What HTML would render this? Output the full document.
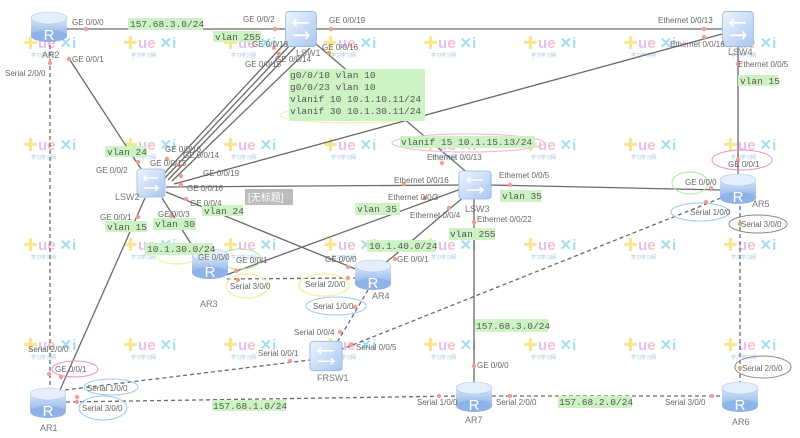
<!DOCTYPE html>
<html><head><meta charset="utf-8"><style>
html,body{margin:0;padding:0;background:#fff;}
svg{display:block;font-family:"Liberation Sans","Noto Sans CJK SC",sans-serif;}
.l{font-size:8px;fill:#666;}
.n{font-size:9px;fill:#777;}
.g{font-family:"Liberation Mono",monospace;font-size:9.5px;fill:#555;}
.gb{fill:#cdf3c4;}
.s{stroke:#6a6a6a;stroke-width:1.3;fill:none;}
.d{stroke:#6a6a6a;stroke-width:1.3;fill:none;stroke-dasharray:4,3;}
.dot{fill:#f49c92;}
.wm{font-size:15px;font-weight:bold;opacity:.55;}
</style></head><body>
<svg width="800" height="438" viewBox="0 0 800 438" xmlns="http://www.w3.org/2000/svg">
<defs>
<linearGradient id="rg" x1="0" y1="0" x2="0" y2="1"><stop offset="0" stop-color="#d9e8fb"/><stop offset="1" stop-color="#8fb3e6"/></linearGradient>
<linearGradient id="sg" x1="0" y1="0" x2="1" y2="1"><stop offset="0" stop-color="#eef5fe"/><stop offset="1" stop-color="#a9c6ef"/></linearGradient>
<g id="wmk">
<text x="0" y="0" class="wm"><tspan fill="#f3d23a">✚</tspan><tspan fill="#c890f0">u</tspan><tspan fill="#f08aa8">e</tspan><tspan fill="#5bc0e8" dx="4">✕i</tspan></text>
<text x="8" y="9" font-size="5px" fill="#7aa8d8" opacity=".7">学习学习网</text>
</g>
<g id="rt">
<rect x="-18" y="-8" width="36" height="18" fill="url(#rg)"/>
<ellipse cx="0" cy="10" rx="18" ry="6" fill="#8fb3e6"/>
<ellipse cx="0" cy="-8" rx="18" ry="6" fill="#e4eefc" stroke="#a9c3ea" stroke-width=".6"/>
<text x="0" y="14" text-anchor="middle" font-size="15" fill="#fff" font-family="Liberation Sans">R</text>
</g>
<g id="sw">
<rect x="-14" y="-14" width="28" height="28" rx="3" fill="url(#sg)" stroke="#9ab8e4" stroke-width=".8"/>
<path d="M-7 -5h14M-7 5h14M-4 -8l-3 3 3 3M4 2l3 3-3 3" stroke="#fff" stroke-width="1.5" fill="none"/>
</g>
</defs>

<!-- watermarks -->
<g>
<use href="#wmk" x="23" y="48"/><use href="#wmk" x="123" y="48"/><use href="#wmk" x="223" y="48"/><use href="#wmk" x="323" y="48"/><use href="#wmk" x="423" y="48"/><use href="#wmk" x="523" y="48"/><use href="#wmk" x="623" y="48"/><use href="#wmk" x="723" y="48"/>
<use href="#wmk" x="23" y="150"/><use href="#wmk" x="123" y="150"/><use href="#wmk" x="223" y="150"/><use href="#wmk" x="323" y="150"/><use href="#wmk" x="423" y="150"/><use href="#wmk" x="523" y="150"/><use href="#wmk" x="623" y="150"/><use href="#wmk" x="723" y="150"/>
<use href="#wmk" x="23" y="250"/><use href="#wmk" x="123" y="250"/><use href="#wmk" x="223" y="250"/><use href="#wmk" x="323" y="250"/><use href="#wmk" x="423" y="250"/><use href="#wmk" x="523" y="250"/><use href="#wmk" x="623" y="250"/><use href="#wmk" x="723" y="250"/>
<use href="#wmk" x="23" y="350"/><use href="#wmk" x="123" y="350"/><use href="#wmk" x="223" y="350"/><use href="#wmk" x="323" y="350"/><use href="#wmk" x="423" y="350"/><use href="#wmk" x="523" y="350"/><use href="#wmk" x="623" y="350"/><use href="#wmk" x="723" y="350"/>
</g>

<!-- lines -->
<line class="s" x1="66" y1="29" x2="285" y2="29"/>
<line class="s" x1="316" y1="29" x2="722" y2="29"/>
<line class="s" x1="68" y1="57" x2="145" y2="175"/>
<line class="d" x1="50" y1="45" x2="50" y2="392"/>
<line class="s" x1="288" y1="40" x2="160" y2="178"/>
<line class="s" x1="293" y1="42" x2="164" y2="179"/>
<line class="s" x1="298" y1="44" x2="168" y2="180"/>
<line class="s" x1="310" y1="48" x2="172" y2="181"/>
<line class="s" x1="316" y1="44" x2="470" y2="175"/>
<line class="s" x1="722" y1="34" x2="174" y2="184"/>
<line class="s" x1="166" y1="187" x2="461" y2="185"/>
<line class="s" x1="489" y1="185" x2="722" y2="190"/>
<line class="s" x1="738" y1="44" x2="738" y2="178"/>
<line class="s" x1="166" y1="192" x2="358" y2="270"/>
<line class="s" x1="162" y1="198" x2="200" y2="258"/>
<line class="s" x1="145" y1="198" x2="60" y2="390"/>
<line class="s" x1="461" y1="189" x2="226" y2="275"/>
<line class="s" x1="465" y1="196" x2="383" y2="265"/>
<line class="s" x1="474" y1="197" x2="474" y2="382"/>
<line class="d" x1="227" y1="279" x2="356" y2="278"/>
<line class="d" x1="368" y1="290" x2="335" y2="346"/>
<line class="d" x1="340" y1="350" x2="726" y2="196"/>
<line class="d" x1="65" y1="390" x2="310" y2="360"/>
<line class="d" x1="66" y1="402" x2="458" y2="396"/>
<line class="d" x1="492" y1="396" x2="722" y2="396"/>
<line class="d" x1="740" y1="206" x2="740" y2="382"/>

<!-- ellipses -->
<g fill="none" stroke-width="1">
<ellipse cx="350" cy="115" rx="70" ry="8" stroke="#f3f0a8"/>
<ellipse cx="468" cy="143" rx="76" ry="9" stroke="#f6b0d8"/>
<ellipse cx="742" cy="160" rx="30" ry="10" stroke="#f08cc8"/>
<ellipse cx="690" cy="183" rx="18" ry="11" stroke="#a8ec9c"/>
<ellipse cx="700" cy="212" rx="29" ry="9" stroke="#9cc8f0"/>
<ellipse cx="758" cy="224" rx="29" ry="9" stroke="#888"/>
<ellipse cx="177" cy="257" rx="19" ry="7" stroke="#f3ec8c"/>
<ellipse cx="240" cy="259" rx="21" ry="10" stroke="#a8ec9c"/>
<ellipse cx="247" cy="286" rx="21" ry="12" stroke="#f3ec8c"/>
<ellipse cx="324" cy="285" rx="25" ry="11" stroke="#f3ec8c"/>
<ellipse cx="336" cy="306" rx="30" ry="9" stroke="#9cc8f0"/>
<ellipse cx="75" cy="369" rx="23" ry="8" stroke="#f08cc8"/>
<ellipse cx="111" cy="387" rx="27" ry="8" stroke="#9cc8f0"/>
<ellipse cx="103" cy="408" rx="24" ry="12" stroke="#9cc8f0"/>
<ellipse cx="763" cy="367" rx="28" ry="11" stroke="#888"/>
</g>

<!-- dots -->
<g class="dot">
<circle cx="86" cy="29" r="2.2"/><circle cx="275" cy="29" r="2.2"/><circle cx="331" cy="29" r="2.2"/>
<circle cx="69" cy="59" r="2.2"/><circle cx="50" cy="63" r="2.2"/><circle cx="274" cy="48" r="2.2"/><circle cx="279" cy="54" r="2.2"/>
<circle cx="329" cy="53" r="2.2" fill="#f0a040"/><circle cx="704" cy="29" r="2.2"/><circle cx="704" cy="37" r="2.2"/><circle cx="738" cy="64" r="2.2"/>
<circle cx="138" cy="162" r="2.2"/><circle cx="167" cy="159" r="2.2"/><circle cx="178" cy="165" r="2.2"/><circle cx="181" cy="176" r="2.2"/><circle cx="181" cy="185" r="2.2"/><circle cx="186" cy="199" r="2.2"/>
<circle cx="138" cy="217" r="2.2"/><circle cx="171" cy="216" r="2.2"/>
<circle cx="404" cy="184" r="2.2"/><circle cx="442" cy="163" r="2.2"/><circle cx="510" cy="185" r="2.2"/><circle cx="425" cy="198" r="2.2"/><circle cx="449" cy="208" r="2.2"/><circle cx="474" cy="222" r="2.2"/>
<circle cx="738" cy="160" r="2.2"/><circle cx="711" cy="188" r="2.2"/><circle cx="706" cy="202" r="2.2"/><circle cx="740" cy="224" r="2.2"/>
<circle cx="196" cy="256" r="2.2"/><circle cx="236" cy="271" r="2.2"/><circle cx="238" cy="280" r="2.2"/><circle cx="348" cy="278" r="2.2"/><circle cx="348" cy="267" r="2.2"/><circle cx="395" cy="259" r="2.2"/>
<circle cx="355" cy="307" r="2.2"/><circle cx="340" cy="332" r="2.2"/><circle cx="351" cy="345" r="2.2"/><circle cx="290" cy="361" r="2.2"/>
<circle cx="49" cy="374" r="2.2"/><circle cx="61" cy="377" r="2.2"/><circle cx="77" cy="397" r="2.2"/><circle cx="77" cy="402" r="2.2"/>
<circle cx="474" cy="366" r="2.2"/><circle cx="439" cy="396" r="2.2"/><circle cx="510" cy="396" r="2.2"/><circle cx="712" cy="396" r="2.2"/><circle cx="740" cy="368" r="2.2"/>
</g>

<!-- devices -->
<use href="#rt" x="49" y="26"/>
<use href="#rt" x="210" y="263"/>
<use href="#rt" x="373" y="274"/>
<use href="#rt" x="738" y="188"/>
<use href="#rt" x="48" y="402"/>
<use href="#rt" x="474" y="396"/>
<use href="#rt" x="740" y="396"/>
<g transform="translate(301,29) scale(1.1,1.25)"><use href="#sw"/></g>
<g transform="translate(738,29) scale(1.1,1.25)"><use href="#sw"/></g>
<g transform="translate(151,183)"><use href="#sw"/></g>
<g transform="translate(475,185) scale(1.15,1)"><use href="#sw"/></g>
<g transform="translate(326,356) scale(1.15,1.05)"><use href="#sw"/></g>

<!-- green labels -->
<g>
<rect class="gb" x="128" y="18" width="75" height="12"/><text class="g" x="130" y="27">157.68.3.0/24</text>
<rect class="gb" x="213" y="31" width="48" height="11"/><text class="g" x="215" y="40">vlan 255</text>
<rect class="gb" x="289" y="69" width="136" height="52"/>
<text class="g" x="290" y="78">g0/0/10  vlan 10</text>
<text class="g" x="290" y="90">g0/0/23  vlan 10</text>
<text class="g" x="290" y="102">vlanif 10  10.1.10.11/24</text>
<text class="g" x="290" y="114">vlanif 30  10.1.30.11/24</text>
<rect class="gb" x="738" y="75" width="40" height="11"/><text class="g" x="740" y="84">vlan 15</text>
<rect class="gb" x="400" y="136" width="135" height="12"/><text class="g" x="401" y="145">vlanif 15  10.1.15.13/24</text>
<rect class="gb" x="105" y="146" width="42" height="11"/><text class="g" x="107" y="155">vlan 24</text>
<rect class="gb" x="500" y="190" width="41" height="12"/><text class="g" x="502" y="199">vlan 35</text>
<rect class="gb" x="355" y="203" width="45" height="12"/><text class="g" x="357" y="212">vlan 35</text>
<rect class="gb" x="202" y="205" width="41" height="11"/><text class="g" x="204" y="214">vlan 24</text>
<rect class="gb" x="105" y="221" width="42" height="11"/><text class="g" x="107" y="230">vlan 15</text>
<rect class="gb" x="153" y="218" width="43" height="12"/><text class="g" x="155" y="227">vlan 30</text>
<rect class="gb" x="449" y="228" width="46" height="12"/><text class="g" x="450" y="237">vlan 255</text>
<rect class="gb" x="145" y="243" width="68" height="12"/><text class="g" x="147" y="252">10.1.30.0/24</text>
<rect class="gb" x="367" y="240" width="69" height="12"/><text class="g" x="369" y="249">10.1.40.0/24</text>
<rect class="gb" x="475" y="319" width="73" height="13"/><text class="g" x="476" y="329">157.68.3.0/24</text>
<rect class="gb" x="212" y="400" width="74" height="11"/><text class="g" x="213" y="409">157.68.1.0/24</text>
<rect class="gb" x="558" y="396" width="74" height="12"/><text class="g" x="559" y="405">157.68.2.0/24</text>
<rect x="245" y="189" width="48" height="16" fill="#bcbcbc"/><text x="248" y="201" font-size="10" fill="#fff">[无标题]</text>
</g>

<!-- interface labels -->
<g class="l">
<text x="72" y="25">GE 0/0/0</text>
<text x="243" y="22">GE 0/0/2</text>
<text x="329" y="23">GE 0/0/19</text>
<text x="252" y="47">GE 0/0/13</text>
<text x="275" y="62">GE 0/0/14</text>
<text x="245" y="67">GE 0/0/15</text>
<text x="322" y="50">GE 0/0/16</text>
<text x="72" y="62">GE 0/0/1</text>
<text x="5" y="76">Serial 2/0/0</text>
<text x="658" y="23">Ethernet 0/0/13</text>
<text x="670" y="47">Ethernet 0/0/16</text>
<text x="738" y="67">Ethernet 0/0/5</text>
<text x="165" y="152">GE 0/0/16</text>
<text x="150" y="166">GE 0/0/13</text>
<text x="183" y="158">GE 0/0/14</text>
<text x="203" y="176">GE 0/0/19</text>
<text x="187" y="191">GE 0/0/16</text>
<text x="96" y="173">GE 0/0/2</text>
<text x="100" y="220">GE 0/0/1</text>
<text x="158" y="217">GE 0/0/3</text>
<text x="190" y="206">GE 0/0/4</text>
<text x="427" y="160">Ethernet 0/0/13</text>
<text x="394" y="183">Ethernet 0/0/16</text>
<text x="499" y="178">Ethernet 0/0/5</text>
<text x="388" y="200">Ethernet 0/0/3</text>
<text x="410" y="218">Ethernet 0/0/4</text>
<text x="477" y="222">Ethernet 0/0/22</text>
<text x="728" y="167">GE 0/0/1</text>
<text x="685" y="185">GE 0/0/0</text>
<text x="690" y="215">Serial 1/0/0</text>
<text x="741" y="227">Serial 3/0/0</text>
<text x="325" y="262">GE 0/0/0</text>
<text x="397" y="262">GE 0/0/1</text>
<text x="198" y="260">GE 0/0/0</text>
<text x="236" y="263">GE 0/0/1</text>
<text x="230" y="289">Serial 3/0/0</text>
<text x="305" y="287">Serial 2/0/0</text>
<text x="313" y="309">Serial 1/0/0</text>
<text x="294" y="335">Serial 0/0/4</text>
<text x="356" y="350">Serial 0/0/5</text>
<text x="258" y="356">Serial 0/0/1</text>
<text x="28" y="352">Serial 2/0/0</text>
<text x="55" y="372">GE 0/0/1</text>
<text x="87" y="391">Serial 1/0/0</text>
<text x="82" y="411">Serial 3/0/0</text>
<text x="477" y="368">GE 0/0/0</text>
<text x="417" y="405">Serial 1/0/0</text>
<text x="496" y="405">Serial 2/0/0</text>
<text x="665" y="405">Serial 3/0/0</text>
<text x="742" y="371">Serial 2/0/0</text>
</g>
<g class="n">
<text x="42" y="58">AR2</text>
<text x="296" y="56">LSW1</text>
<text x="728" y="55">LSW4</text>
<text x="115" y="200">LSW2</text>
<text x="465" y="212">LSW3</text>
<text x="752" y="207">AR5</text>
<text x="200" y="307">AR3</text>
<text x="372" y="299">AR4</text>
<text x="317" y="381">FRSW1</text>
<text x="40" y="431">AR1</text>
<text x="465" y="423">AR7</text>
<text x="732" y="425">AR6</text>
</g>
</svg>
</body></html>
